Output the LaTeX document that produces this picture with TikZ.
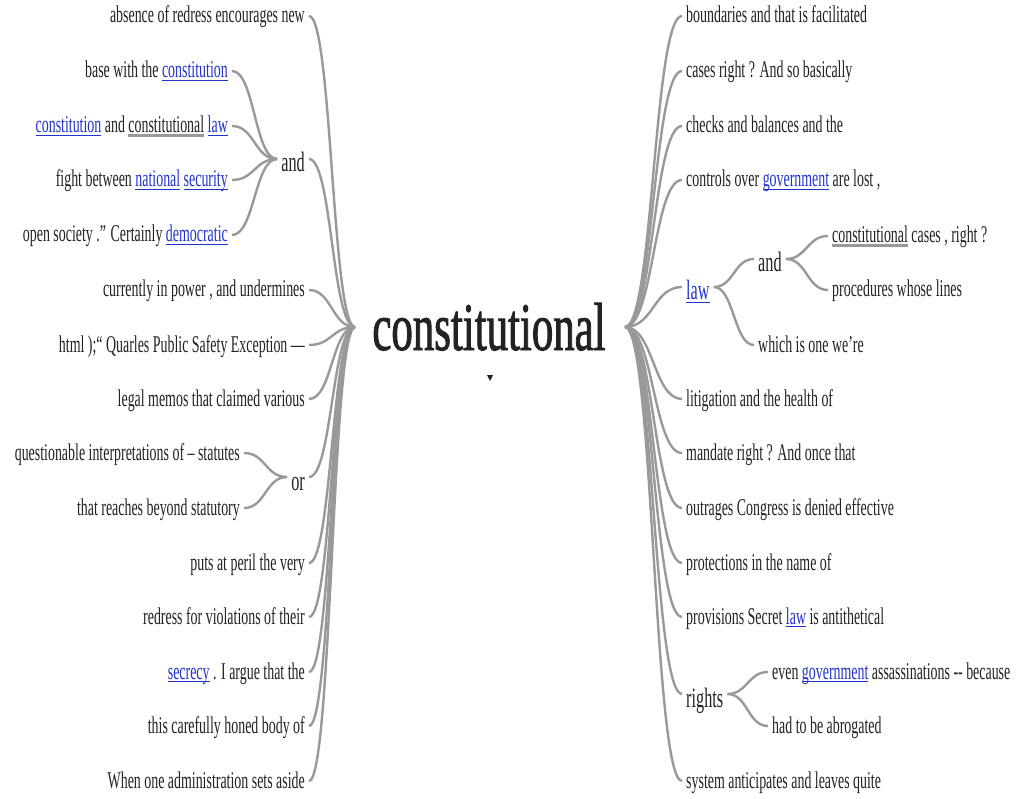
\documentclass[tikz,border=0pt]{standalone}
\usepackage{fontspec}
\setmainfont{Liberation Serif}[FakeStretch=0.58]
\newfontfamily\rootfont{Liberation Serif}[FakeStretch=0.63,FakeBold=1.2]
\usetikzlibrary{calc}
\definecolor{inkdark}{HTML}{222222}
\definecolor{linkblue}{HTML}{2233CC}
\definecolor{stemgrey}{HTML}{999999}
\newcommand{\lnk}[1]{\textcolor{linkblue}{\setbox0\hbox{#1}\rlap{\rule[-3pt]{\wd0}{0.9pt}}\box0\relax}}
\newcommand{\hl}[1]{\setbox0\hbox{#1}\rlap{\textcolor{stemgrey}{\rule[-4.5pt]{\wd0}{3pt}}}\box0\relax}

\begin{document}
\begin{tikzpicture}[x=1pt,y=-1pt,
  leaf/.style={font=\fontsize{24}{28}\selectfont,text=inkdark,inner xsep=4pt,inner ysep=0pt,text height=14pt,text depth=0pt},
  mid node/.style={leaf,font=\fontsize{28}{32}\selectfont,text height=26pt},
  branch/.style={draw=stemgrey,line width=2.4pt,to path={.. controls ($(\tikztostart)!.5!(\tikztostart-|\tikztotarget)$) and ($(\tikztotarget)!.5!(\tikztotarget-|\tikztostart)$) .. (\tikztotarget)}}]
\fill[white] (0,0) rectangle (1019,799);
\useasboundingbox (0,0) rectangle (1019,799);
% centre word
\node[text=inkdark,font=\rootfont\fontsize{68}{70}\selectfont,anchor=base,inner sep=0pt] (root) at (489,350) {constitutional};
\fill[inkdark] (487,375) -- (493,375) -- (490,381) -- cycle;
\coordinate (lroot) at (355,327);
\coordinate (rroot) at (625,327);
% left side
\begin{scope}[every node/.style={leaf,anchor=east}]
\node (l1) at (309,16) {absence of redress encourages new};
\node[mid node] (land) at (309,159) {and};
\node (a1) at (232,71) {base with the \lnk{constitution}};
\node (a2) at (232,126) {\lnk{constitution} and \hl{constitutional} \lnk{law}};
\node (a3) at (232,180) {fight between \lnk{national} \lnk{security}};
\node (a4) at (232,235) {open society .” Certainly \lnk{democratic}};
\node (l3) at (309,290) {currently in power , and undermines};
\node (l4) at (309,345) {html );“ Quarles Public Safety Exception —};
\node (l5) at (309,399) {legal memos that claimed various};
\node[mid node] (lor) at (309,477) {or};
\node (o1) at (244,453) {questionable interpretations of – statutes};
\node (o2) at (244,508) {that reaches beyond statutory};
\node (l7) at (309,563) {puts at peril the very};
\node (l8) at (309,617) {redress for violations of their};
\node (l9) at (309,672) {\lnk{secrecy} . I argue that the};
\node (l10) at (309,726) {this carefully honed body of};
\node (l11) at (309,781) {When one administration sets aside};
\end{scope}
% right side
\begin{scope}[every node/.style={leaf,anchor=west}]
\node (r1) at (682,16) {boundaries and that is facilitated};
\node (r2) at (682,71) {cases right ? And so basically};
\node (r3) at (682,126) {checks and balances and the};
\node (r4) at (682,180) {controls over \lnk{government} are lost ,};
\node[mid node] (rlaw) at (682,287) {\lnk{law}};
\node[mid node] (rand) at (754,259) {and};
\node (c1) at (828,236) {\hl{constitutional} cases , right ?};
\node (c2) at (828,290) {procedures whose lines};
\node (w1) at (754,345) {which is one we’re};
\node (r6) at (682,399) {litigation and the health of};
\node (r7) at (682,453) {mandate right ? And once that};
\node (r8) at (682,508) {outrages Congress is denied effective};
\node (r9) at (682,563) {protections in the name of};
\node (r10) at (682,617) {provisions Secret \lnk{law} is antithetical};
\node[mid node] (rrights) at (682,694) {rights};
\node (g1) at (768,672) {even \lnk{government} assassinations -{}- because};
\node (g2) at (768,726) {had to be abrogated};
\node (r12) at (682,781) {system anticipates and leaves quite};
\end{scope}
% left connectors
\draw (l1.east) edge[branch] (lroot);
\draw (land.east) edge[branch] (lroot);
\draw (l3.east) edge[branch] (lroot);
\draw (l4.east) edge[branch] (lroot);
\draw (l5.east) edge[branch] (lroot);
\draw (lor.east) edge[branch] (lroot);
\draw (l7.east) edge[branch] (lroot);
\draw (l8.east) edge[branch] (lroot);
\draw (l9.east) edge[branch] (lroot);
\draw (l10.east) edge[branch] (lroot);
\draw (l11.east) edge[branch] (lroot);
\draw (a1.east) edge[branch] (land.west);
\draw (a2.east) edge[branch] (land.west);
\draw (a3.east) edge[branch] (land.west);
\draw (a4.east) edge[branch] (land.west);
\draw (o1.east) edge[branch] (lor.west);
\draw (o2.east) edge[branch] (lor.west);
% right connectors
\draw (rroot) edge[branch] (r1.west);
\draw (rroot) edge[branch] (r2.west);
\draw (rroot) edge[branch] (r3.west);
\draw (rroot) edge[branch] (r4.west);
\draw (rroot) edge[branch] (rlaw.west);
\draw (rroot) edge[branch] (r6.west);
\draw (rroot) edge[branch] (r7.west);
\draw (rroot) edge[branch] (r8.west);
\draw (rroot) edge[branch] (r9.west);
\draw (rroot) edge[branch] (r10.west);
\draw (rroot) edge[branch] (rrights.west);
\draw (rroot) edge[branch] (r12.west);
\draw (rlaw.east) edge[branch] (rand.west);
\draw (rlaw.east) edge[branch] (w1.west);
\draw (rand.east) edge[branch] (c1.west);
\draw (rand.east) edge[branch] (c2.west);
\draw (rrights.east) edge[branch] (g1.west);
\draw (rrights.east) edge[branch] (g2.west);
\end{tikzpicture}
\end{document}
